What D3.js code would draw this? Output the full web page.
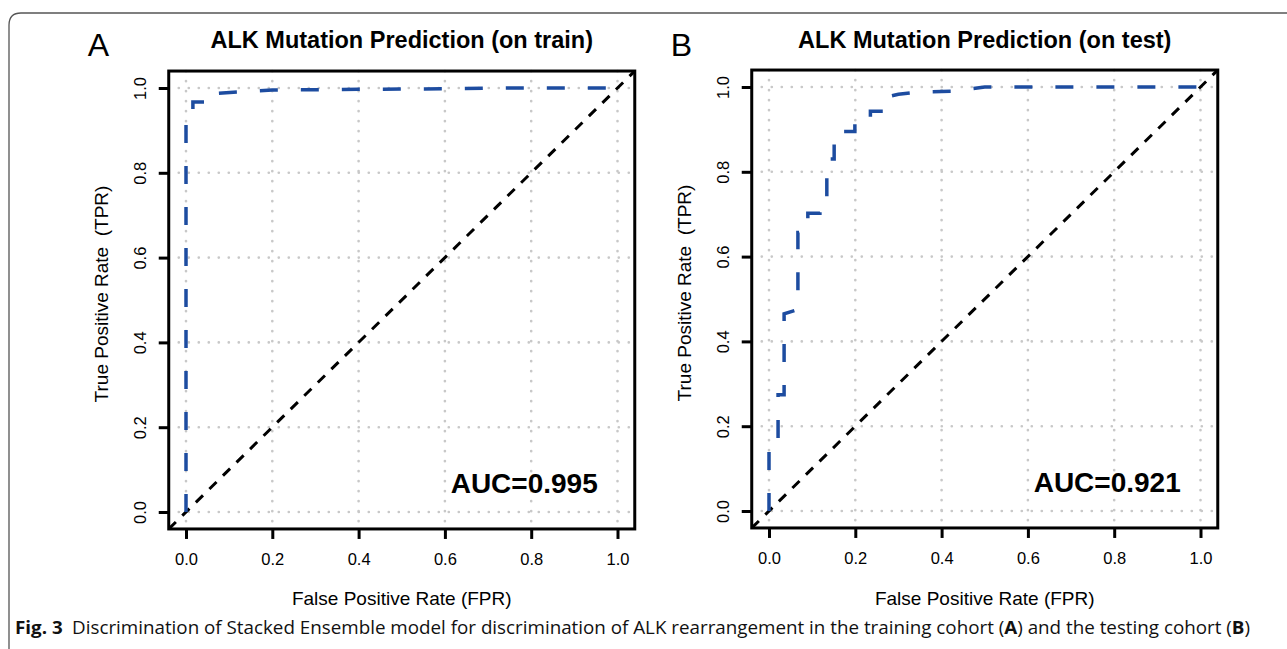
<!DOCTYPE html>
<html>
<head>
<meta charset="utf-8">
<script src="https://cdn.jsdelivr.net/npm/d3@7"></script>
<style>
  body { margin: 0; background: #fff; }
  svg { display: block; }
</style>
</head>
<body>
<div id="chart"></div>
<script>
// tick values shared by both panels
const tickValues = [0, 0.2, 0.4, 0.6, 0.8, 1.0];

// ROC curve on the training cohort
const trainFPR = [0, 0, 0.016, 0.016, 0.05, 0.05, 0.11, 0.2, 0.4, 0.6, 0.75, 1];
const trainTPR = [0, 0.94, 0.94, 0.967, 0.967, 0.986, 0.99, 0.995, 0.997, 0.998, 1, 1];

// ROC curve on the testing cohort
const testFPR = [0, 0, 0.021, 0.021, 0.035, 0.035, 0.067, 0.067, 0.09, 0.09, 0.118, 0.118, 0.134, 0.134,
  0.151, 0.151, 0.199, 0.199, 0.235, 0.235, 0.266, 0.266, 0.3, 0.343, 0.43, 0.5, 1];
const testTPR = [0, 0.16, 0.16, 0.274, 0.274, 0.465, 0.475, 0.657, 0.657, 0.702, 0.702, 0.725, 0.725, 0.83,
  0.83, 0.895, 0.895, 0.915, 0.915, 0.943, 0.943, 0.975, 0.983, 0.988, 0.99, 1, 1];

const panelLetters = ["A", "B"];
const panelTitles = ["ALK Mutation Prediction (on train)", "ALK Mutation Prediction (on test)"];
const aucLabels = ["AUC=0.995", "AUC=0.921"];
const xLabels = ["False Positive Rate (FPR)", "False Positive Rate (FPR)"];
const yLabel = "True Positive Rate  (TPR)";

let w = 1287;
let h = 649;
let font = "'Liberation Sans', Arial, Helvetica, sans-serif";
let blue = "#1d4ca0";

let svg = d3.select("#chart").append("svg")
  .attr("width", w)
  .attr("height", h);

// frame around the figure
svg.append("path")
  .attr("d", "M9,649 L9,25 Q9,13 21,13 L1287,13")
  .attr("fill", "none")
  .attr("stroke", "#555")
  .attr("stroke-width", 1.3);

// pixel position of fpr=0 for each panel, unit length is the same
let panels = [
  { x0: 186, fpr: trainFPR, tpr: trainTPR, y0: 512 },
  { x0: 769, fpr: testFPR, tpr: testTPR, y0: 511 }
];
let unit = 431.5;
let yUnit = 424;

panels.forEach(function (p, k) {
  let xScale = d3.scaleLinear()
    .domain([-0.04, 1.04])
    .range([p.x0 - 0.04 * unit, p.x0 + 1.04 * unit]);
  let yScale = d3.scaleLinear()
    .domain([-0.04, 1.04])
    .range([p.y0 + 0.04 * yUnit, p.y0 - 1.04 * yUnit]);

  let left = xScale.range()[0], right = xScale.range()[1];
  let bottom = yScale.range()[0], top = yScale.range()[1];
  let cx = (left + right) / 2;

  let g = svg.append("g").classed("panel", true);

  // clip to plot region
  g.append("clipPath").attr("id", "clip" + k)
    .append("rect")
    .attr("x", left).attr("y", top)
    .attr("width", right - left).attr("height", bottom - top);

  // dotted grid
  let grid = g.append("g").classed("grid", true);
  grid.selectAll(".gv").data(tickValues).enter().append("line")
    .attr("x1", d => xScale(d)).attr("x2", d => xScale(d))
    .attr("y1", top).attr("y2", bottom);
  grid.selectAll(".gh").data(tickValues).enter().append("line")
    .attr("y1", d => yScale(d)).attr("y2", d => yScale(d))
    .attr("x1", left).attr("x2", right);
  grid.selectAll("line")
    .attr("stroke", "#c8c8c8")
    .attr("stroke-width", 2.6)
    .attr("stroke-linecap", "round")
    .attr("stroke-dasharray", "0.1,9.9");

  let plot = g.append("g").attr("clip-path", "url(#clip" + k + ")");

  // chance line
  let diag = xScale.domain().map(v => [v, v]);
  plot.append("path")
    .datum(diag)
    .attr("d", d3.line().x(d => xScale(d[0])).y(d => yScale(d[1])))
    .attr("fill", "none")
    .attr("stroke", "#000")
    .attr("stroke-width", 3)
    .attr("stroke-dasharray", "10,9");

  // ROC curve
  let pts = d3.zip(p.fpr, p.tpr);
  plot.append("path")
    .datum(pts)
    .attr("d", d3.line().x(d => xScale(d[0])).y(d => yScale(d[1])))
    .attr("fill", "none")
    .attr("stroke", blue)
    .attr("stroke-width", 3.5)
    .attr("stroke-dasharray", "18,23");

  // box
  g.append("rect")
    .attr("x", left).attr("y", top)
    .attr("width", right - left).attr("height", bottom - top)
    .attr("fill", "none")
    .attr("stroke", "#000")
    .attr("stroke-width", 3);

  // axes
  let xAxis = d3.axisBottom(xScale).tickValues(tickValues).tickSize(10).tickFormat(d3.format(".1f"));
  let xg = g.append("g").attr("transform", "translate(0," + bottom + ")").call(xAxis);
  let yAxis = d3.axisLeft(yScale).tickValues(tickValues).tickSize(10).tickFormat(d3.format(".1f"));
  let yg = g.append("g").attr("transform", "translate(" + left + ",0)").call(yAxis);

  [xg, yg].forEach(function (a) {
    a.select(".domain").remove();
    a.attr("font-family", font).attr("font-size", 16.5);
    a.selectAll(".tick line").attr("stroke", "#000").attr("stroke-width", 3);
    a.selectAll(".tick text").attr("fill", "#000");
  });
  xg.selectAll(".tick text").attr("y", 36).attr("dy", 0);
  yg.selectAll(".tick text")
    .attr("transform", "rotate(-90)")
    .attr("x", 0).attr("y", -23).attr("dy", 0)
    .attr("text-anchor", "middle");

  // titles and labels
  g.append("text")
    .attr("x", cx).attr("y", 48)
    .attr("text-anchor", "middle")
    .attr("font-family", font).attr("font-size", 23.5).attr("font-weight", "bold")
    .text(panelTitles[k]);

  g.append("text")
    .attr("x", left - 81).attr("y", 56)
    .attr("font-family", font).attr("font-size", 32)
    .text(panelLetters[k]);

  g.append("text")
    .attr("x", cx).attr("y", 605)
    .attr("text-anchor", "middle")
    .attr("font-family", font).attr("font-size", 19)
    .text(xLabels[k]);

  g.append("text")
    .attr("transform", "translate(" + (left - 61) + "," + ((top + bottom) / 2 - 6) + ") rotate(-90)")
    .attr("text-anchor", "middle")
    .attr("font-family", font).attr("font-size", 19)
    .style("white-space", "pre")
    .text(yLabel);

  g.append("text")
    .attr("x", right - 37).attr("y", bottom - 36)
    .attr("text-anchor", "end")
    .attr("font-family", font).attr("font-size", 28).attr("font-weight", "bold")
    .text(aucLabels[k]);
});

// figure caption
let cap = svg.append("text")
  .attr("x", 15).attr("y", 634)
  .attr("font-family", "'Open Sans', 'Noto Sans', sans-serif")
  .attr("font-size", 18)
  .attr("fill", "#111")
  .attr("textLength", 1235)
  .attr("lengthAdjust", "spacingAndGlyphs");
cap.append("tspan").attr("font-weight", "bold").text("Fig. 3");
cap.append("tspan").text("\u2002Discrimination of Stacked Ensemble model for discrimination of ALK rearrangement in the training cohort (");
cap.append("tspan").attr("font-weight", "bold").text("A");
cap.append("tspan").text(") and the testing cohort (");
cap.append("tspan").attr("font-weight", "bold").text("B");
cap.append("tspan").text(")");
</script>
</body>
</html>
